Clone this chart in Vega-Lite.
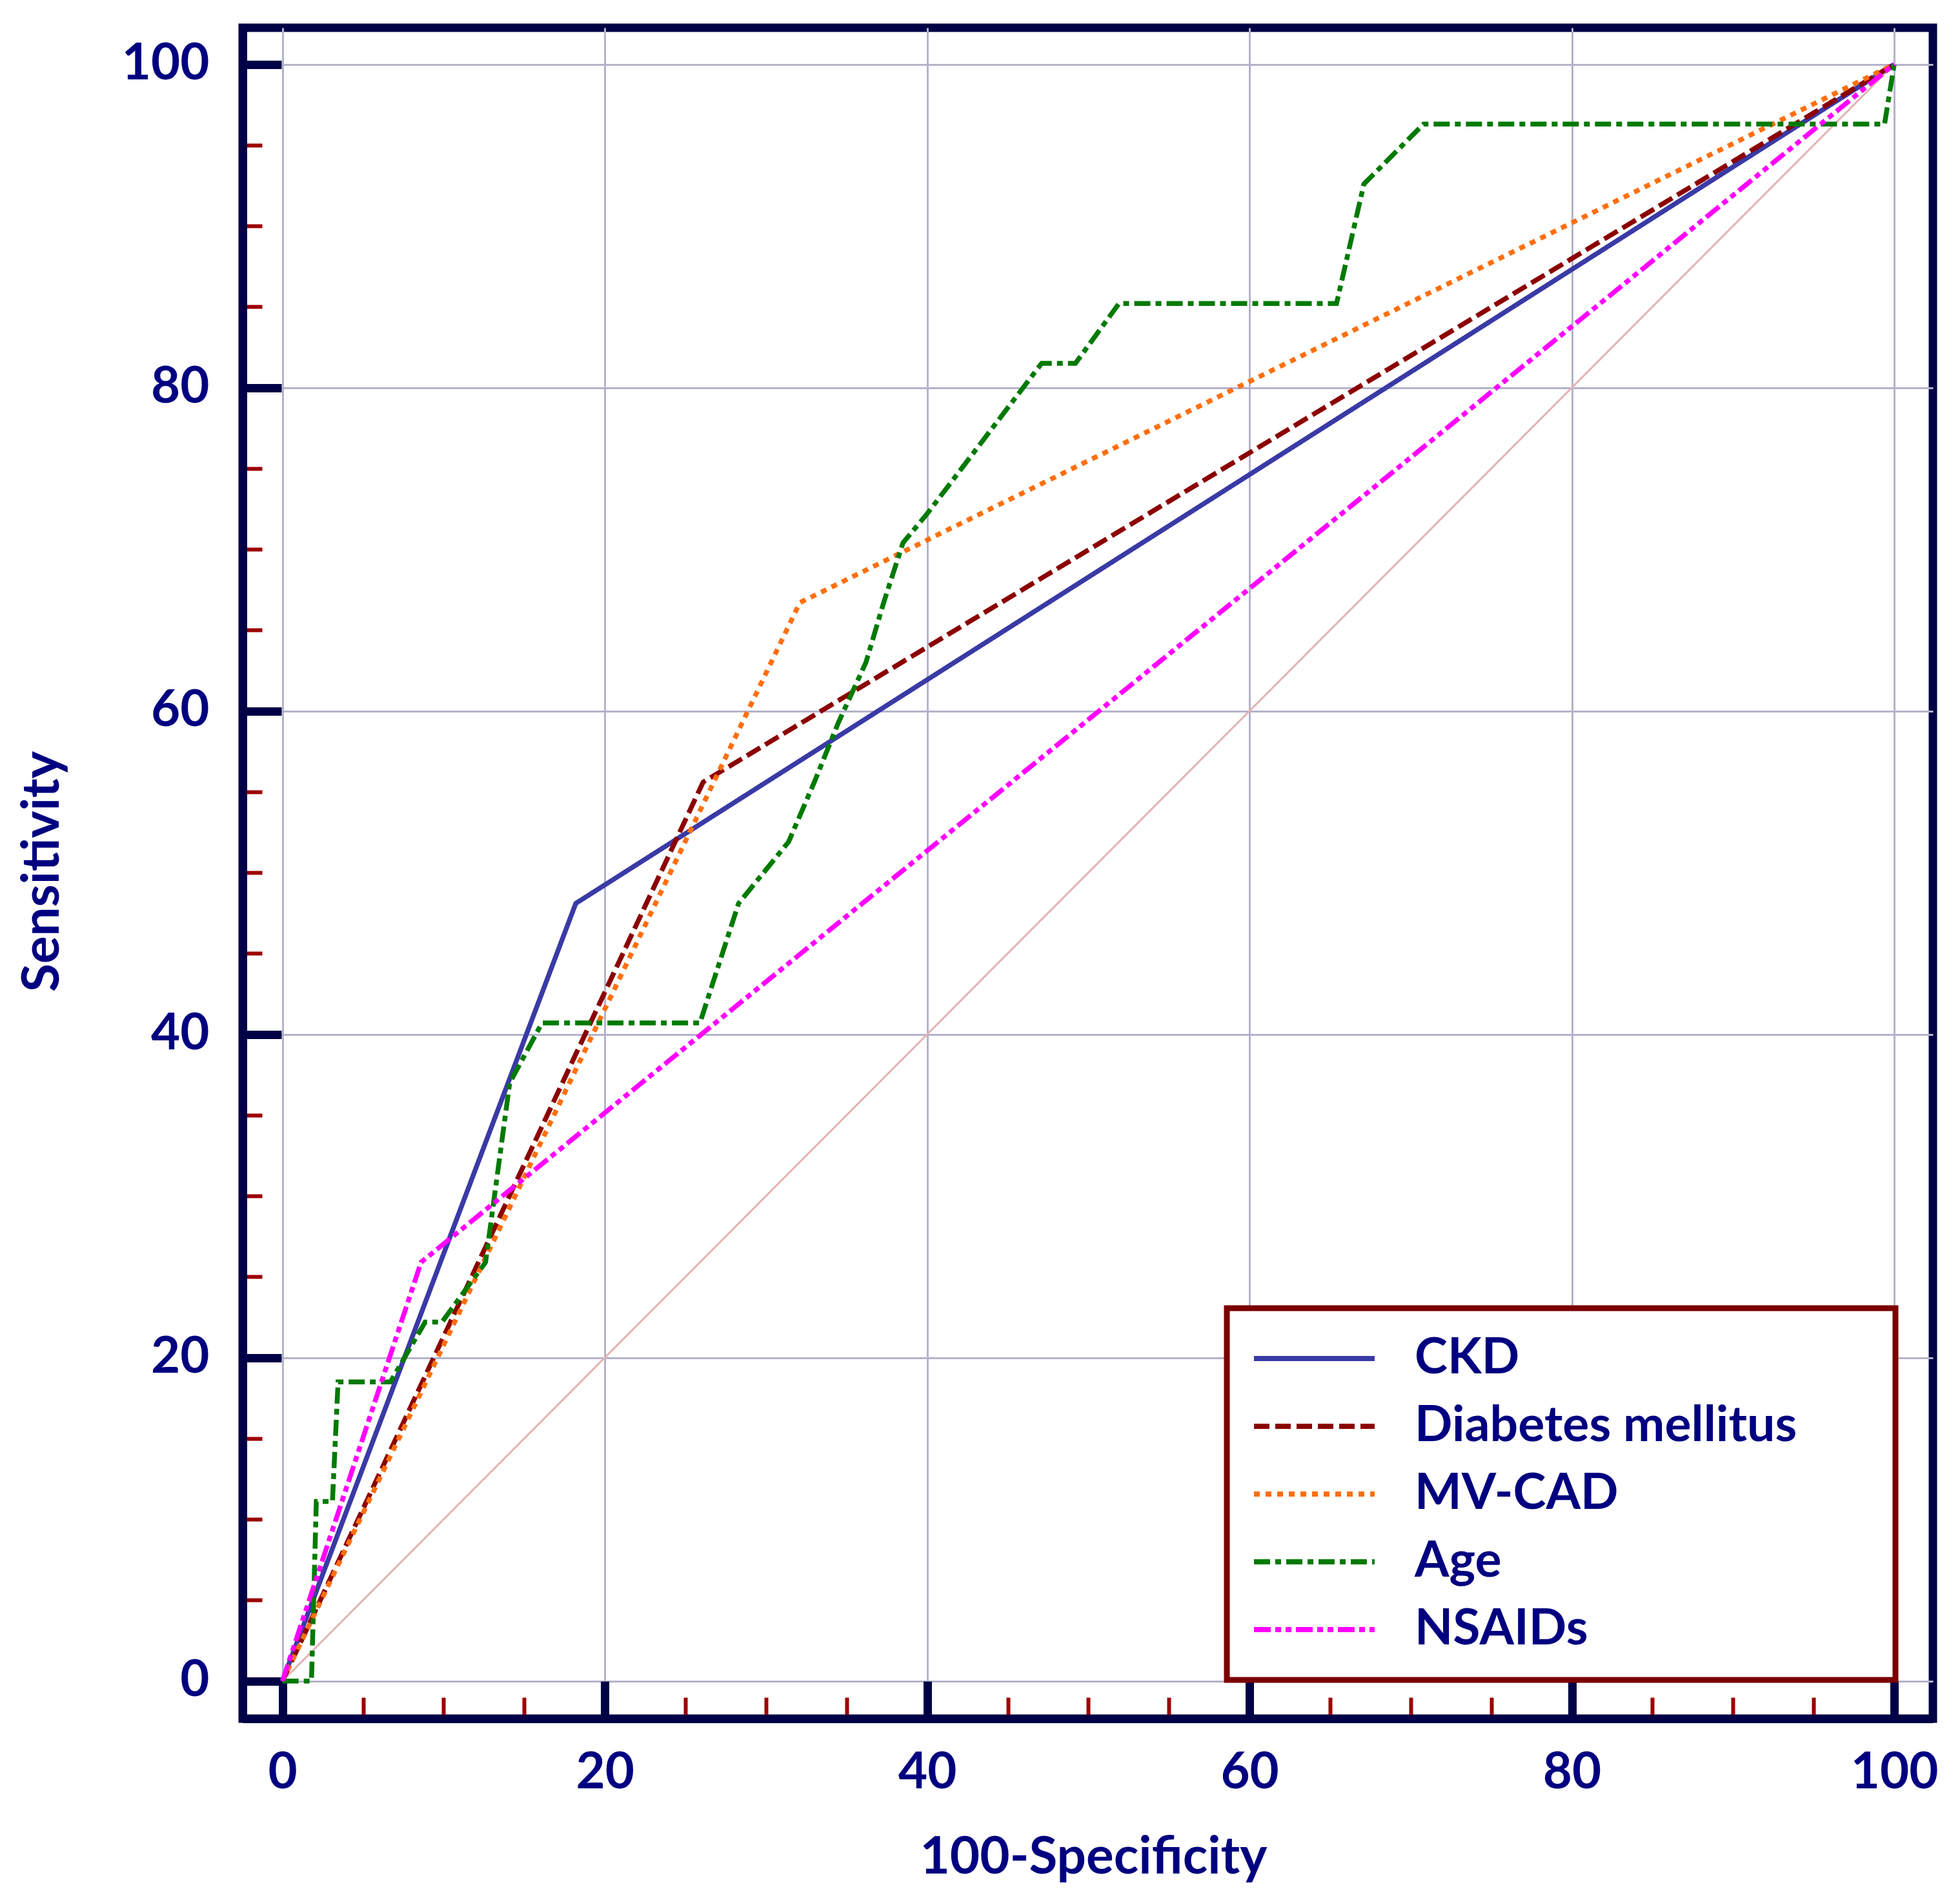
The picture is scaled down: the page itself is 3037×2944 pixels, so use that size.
{
  "$schema": "https://vega.github.io/schema/vega-lite/v6.json",
  "width": 2619,
  "height": 2620,
  "autosize": "none",
  "padding": {"left": 376, "top": 43, "right": 42, "bottom": 281},
  "background": "white",
  "config": {
    "font": "Lato",
    "view": {"stroke": "#000046", "strokeWidth": 13},
    "legend": {
      "orient": "none",
      "legendX": 1525,
      "legendY": 1984,
      "titleOrient": "right",
      "titleFontSize": 4,
      "titlePadding": 115,
      "strokeColor": "#7a0000",
      "strokeWidth": 9,
      "fillColor": "white",
      "padding": 38,
      "symbolType": "stroke",
      "symbolSize": 34969,
      "symbolStrokeWidth": 8,
      "clipHeight": 80,
      "rowPadding": 25,
      "labelFont": "Lato",
      "labelFontWeight": "bold",
      "labelFontSize": 77,
      "labelColor": "#000080",
      "labelOffset": 58,
      "labelLimit": 0
    }
  },
  "layer": [
    {
      "data": {"values": [{"x": 0, "y": 0}, {"x": 100, "y": 100}]},
      "mark": {"type": "line", "color": "#e3b3b3", "strokeWidth": 3},
      "encoding": {
        "x": {"field": "x", "type": "quantitative"},
        "y": {"field": "y", "type": "quantitative"}
      }
    },
    {
      "data": {
        "values": [
          {"series": "CKD", "i": 0, "x": 0, "y": 0},
          {"series": "CKD", "i": 1, "x": 18.2, "y": 48.1},
          {"series": "CKD", "i": 2, "x": 100, "y": 100},
          {"series": "Diabetes mellitus", "i": 0, "x": 0, "y": 0},
          {"series": "Diabetes mellitus", "i": 1, "x": 26.1, "y": 55.6},
          {"series": "Diabetes mellitus", "i": 2, "x": 100, "y": 100},
          {"series": "MV-CAD", "i": 0, "x": 0, "y": 0},
          {"series": "MV-CAD", "i": 1, "x": 32.1, "y": 66.7},
          {"series": "MV-CAD", "i": 2, "x": 100, "y": 100},
          {"series": "Age", "i": 0, "x": 0, "y": 0},
          {"series": "Age", "i": 1, "x": 1.8, "y": 0},
          {"series": "Age", "i": 2, "x": 2.1, "y": 11.1},
          {"series": "Age", "i": 3, "x": 3.1, "y": 11.1},
          {"series": "Age", "i": 4, "x": 3.45, "y": 18.5},
          {"series": "Age", "i": 5, "x": 6.7, "y": 18.5},
          {"series": "Age", "i": 6, "x": 8.85, "y": 22.2},
          {"series": "Age", "i": 7, "x": 9.9, "y": 22.2},
          {"series": "Age", "i": 8, "x": 12.6, "y": 25.9},
          {"series": "Age", "i": 9, "x": 13.1, "y": 29.6},
          {"series": "Age", "i": 10, "x": 14.1, "y": 37.0},
          {"series": "Age", "i": 11, "x": 16.1, "y": 40.7},
          {"series": "Age", "i": 12, "x": 25.9, "y": 40.7},
          {"series": "Age", "i": 13, "x": 28.3, "y": 48.1},
          {"series": "Age", "i": 14, "x": 31.4, "y": 51.9},
          {"series": "Age", "i": 15, "x": 33.0, "y": 55.6},
          {"series": "Age", "i": 16, "x": 34.5, "y": 59.3},
          {"series": "Age", "i": 17, "x": 36.2, "y": 63.0},
          {"series": "Age", "i": 18, "x": 37.3, "y": 66.7},
          {"series": "Age", "i": 19, "x": 38.5, "y": 70.4},
          {"series": "Age", "i": 20, "x": 40.0, "y": 72.2},
          {"series": "Age", "i": 21, "x": 47.1, "y": 81.5},
          {"series": "Age", "i": 22, "x": 49.2, "y": 81.5},
          {"series": "Age", "i": 23, "x": 51.9, "y": 85.2},
          {"series": "Age", "i": 24, "x": 65.4, "y": 85.2},
          {"series": "Age", "i": 25, "x": 67.1, "y": 92.6},
          {"series": "Age", "i": 26, "x": 70.8, "y": 96.3},
          {"series": "Age", "i": 27, "x": 99.4, "y": 96.3},
          {"series": "Age", "i": 28, "x": 100, "y": 100},
          {"series": "NSAIDs", "i": 0, "x": 0, "y": 0},
          {"series": "NSAIDs", "i": 1, "x": 8.6, "y": 25.9},
          {"series": "NSAIDs", "i": 2, "x": 100, "y": 100}
        ]
      },
      "mark": {"type": "line", "strokeWidth": 7.5, "strokeCap": "butt"},
      "encoding": {
        "x": {
          "field": "x",
          "type": "quantitative",
          "scale": {"domain": [-2.47, 102.4], "nice": false, "zero": false},
          "axis": {
            "values": [0, 5, 10, 15, 20, 25, 30, 35, 40, 45, 50, 55, 60, 65, 70, 75, 80, 85, 90, 95, 100],
            "grid": true,
            "gridColor": "#b3b3cc",
            "gridWidth": 3,
            "gridOpacity": {"condition": {"test": "datum.value % 20 === 0", "value": 1}, "value": 0},
            "tickColor": {"condition": {"test": "datum.value % 20 === 0", "value": "#000046"}, "value": "#9b0000"},
            "tickWidth": {"condition": {"test": "datum.value % 20 === 0", "value": 13}, "value": 6},
            "tickSize": {"condition": {"test": "datum.value % 20 === 0", "value": -58}, "value": -33},
            "labelExpr": "datum.value % 20 === 0 ? datum.label : ''",
            "labelFont": "Lato",
            "labelFontWeight": "bold",
            "labelFontSize": 78,
            "labelColor": "#000080",
            "labelPadding": 165,
            "labelBaseline": "alphabetic",
            "labelFlush": false,
            "labelOverlap": false,
            "labelBound": false,
            "domainColor": "#000046",
            "domainWidth": 13,
            "title": "100-Specificity",
            "titleFont": "Lato",
            "titleFontWeight": "bold",
            "titleFontSize": 80,
            "titleColor": "#000080",
            "titleX": 1318,
            "titleY": 239,
            "titleAlign": "center",
            "titleBaseline": "alphabetic"
          }
        },
        "y": {
          "field": "y",
          "type": "quantitative",
          "scale": {"domain": [-2.33, 102.26], "nice": false, "zero": false},
          "axis": {
            "values": [0, 5, 10, 15, 20, 25, 30, 35, 40, 45, 50, 55, 60, 65, 70, 75, 80, 85, 90, 95, 100],
            "grid": true,
            "gridColor": "#b3b3cc",
            "gridWidth": 3,
            "gridOpacity": {"condition": {"test": "datum.value % 20 === 0", "value": 1}, "value": 0},
            "tickColor": {"condition": {"test": "datum.value % 20 === 0", "value": "#000046"}, "value": "#9b0000"},
            "tickWidth": {"condition": {"test": "datum.value % 20 === 0", "value": 13}, "value": 6},
            "tickSize": {"condition": {"test": "datum.value % 20 === 0", "value": -60}, "value": -30},
            "labelExpr": "datum.value % 20 === 0 ? datum.label : ''",
            "labelFont": "Lato",
            "labelFontWeight": "bold",
            "labelFontSize": 78,
            "labelColor": "#000080",
            "labelPadding": 112,
            "labelAlign": "right",
            "labelBaseline": "middle",
            "labelFlush": false,
            "labelOverlap": false,
            "labelBound": false,
            "domainColor": "#000046",
            "domainWidth": 13,
            "title": "Sensitivity",
            "titleFont": "Lato",
            "titleFontWeight": "bold",
            "titleFontSize": 80,
            "titleColor": "#000080",
            "titleAngle": 270,
            "titleX": -286,
            "titleY": 1307,
            "titleAlign": "center",
            "titleBaseline": "alphabetic"
          }
        },
        "color": {
          "field": "series",
          "type": "nominal",
          "title": " ",
          "scale": {
            "domain": ["CKD", "Diabetes mellitus", "MV-CAD", "Age", "NSAIDs"],
            "range": ["#3a3aa6", "#8b0000", "#ff6f0f", "#007a00", "#ff00ff"]
          }
        },
        "strokeDash": {
          "field": "series",
          "type": "nominal",
          "title": " ",
          "scale": {
            "domain": ["CKD", "Diabetes mellitus", "MV-CAD", "Age", "NSAIDs"],
            "range": [[1, 0], [24, 9], [9, 9], [25, 8, 9, 8], [26, 7, 9, 7, 9, 7]]
          }
        },
        "order": {"field": "i", "type": "quantitative"}
      }
    }
  ]
}
